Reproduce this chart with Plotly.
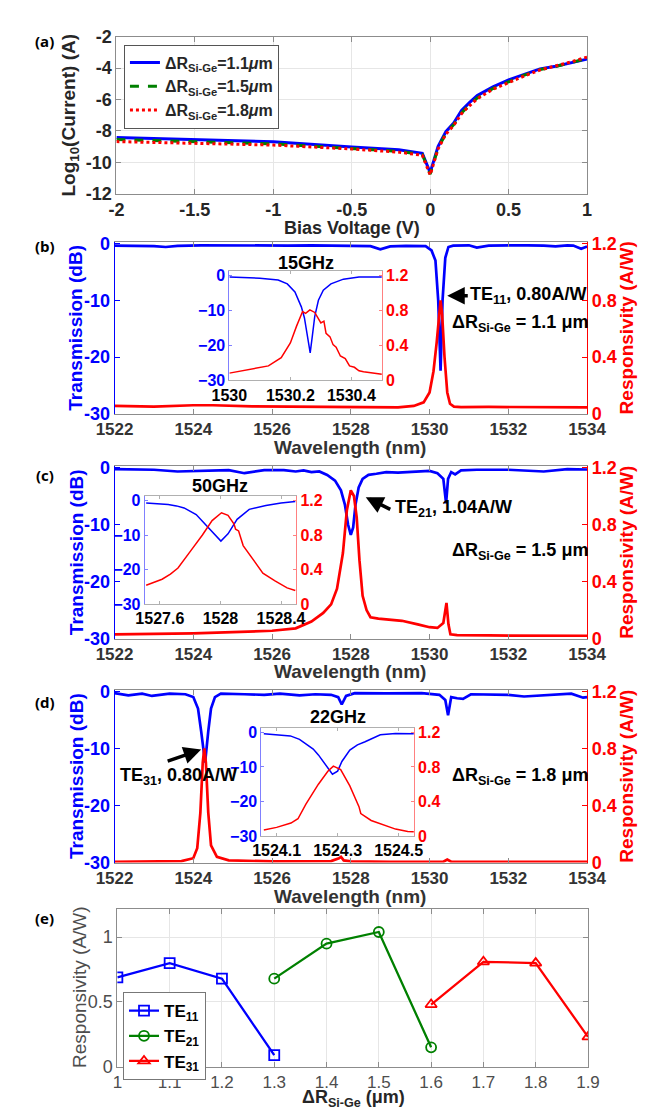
import plotly.graph_objects as go

W, H = 647, 1110
FONT = "Liberation Sans"
BLUE = "#0000ff"
RED = "#ff0000"
GREEN = "#008000"
DARK = "#262626"
BOX = "#8c8c8c"

# ---------------- Panel (a): I-V curves ----------------
bias_v = [-2, -1.5, -1, -0.5, -0.2, -0.05, 0, 0.05, 0.1, 0.15, 0.2, 0.25, 0.3, 0.4, 0.5, 0.6, 0.7, 0.8, 0.9, 1.0]
logI_11 = [-8.42, -8.55, -8.69, -9.02, -9.2, -9.42, -10.65, -9.0, -8.05, -7.5, -6.7, -6.2, -5.75, -5.2, -4.75, -4.4, -4.05, -3.88, -3.66, -3.43]
logI_15 = [-8.55, -8.68, -8.82, -9.12, -9.3, -9.5, -10.75, -9.1, -8.15, -7.6, -6.85, -6.35, -5.9, -5.3, -4.85, -4.45, -4.1, -3.9, -3.65, -3.38]
logI_18 = [-8.68, -8.78, -8.9, -9.15, -9.35, -9.55, -10.8, -9.15, -8.2, -7.65, -6.9, -6.4, -5.95, -5.35, -4.9, -4.5, -4.12, -3.88, -3.6, -3.3]
iv_names = ["ΔR<sub>Si-Ge</sub>=1.1<i>μ</i>m", "ΔR<sub>Si-Ge</sub>=1.5<i>μ</i>m", "ΔR<sub>Si-Ge</sub>=1.8<i>μ</i>m"]

# ---------------- Panel (b): ΔR = 1.1 um ----------------
wl_b_T = [1522.0, 1522.6, 1523.0, 1523.3, 1523.6, 1524.2, 1525.0, 1525.7, 1526.4, 1527.0, 1527.5, 1528.2, 1528.5,
          1528.75, 1529.0, 1529.4, 1529.9, 1530.05, 1530.15, 1530.22, 1530.28, 1530.33, 1530.4, 1530.48, 1530.6,
          1531.0, 1531.2, 1531.5, 1532.0, 1532.5, 1532.9, 1533.2, 1533.5, 1533.65, 1533.85, 1534.0]
T_b = [-0.35, -0.4, -0.45, -0.6, -0.4, -0.3, -0.35, -0.3, -0.35, -0.3, -0.35, -0.4, -0.45,
       -1.0, -0.5, -0.4, -0.45, -1.2, -3.0, -10.0, -22.4, -10.0, -2.5, -0.6, -0.35,
       -0.3, -0.7, -0.35, -0.3, -0.3, -0.35, -0.5, -0.3, -0.35, -0.9, -0.5]
wl_b_R = [1522.0, 1523.0, 1524.0, 1524.5, 1525.5, 1526.5, 1527.5, 1528.5, 1529.2, 1529.6, 1529.85, 1530.0, 1530.1,
          1530.18, 1530.24, 1530.28, 1530.32, 1530.38, 1530.45, 1530.52, 1530.62, 1530.8, 1531.5, 1532.5, 1533.5, 1534.0]
R_b = [0.055, 0.05, 0.06, 0.06, 0.052, 0.05, 0.05, 0.048, 0.045, 0.055, 0.08, 0.15, 0.3,
       0.5, 0.68, 0.80, 0.7, 0.4, 0.15, 0.07, 0.05, 0.047, 0.048, 0.045, 0.045, 0.045]
wl_bi_T = [1530.0, 1530.05, 1530.1, 1530.16, 1530.19, 1530.215, 1530.236, 1530.246, 1530.256, 1530.265, 1530.272,
           1530.28, 1530.292, 1530.308, 1530.333, 1530.374, 1530.425, 1530.46, 1530.5]
T_bi = [-0.3, -0.45, -0.65, -1.2, -2.3, -4.6, -8.9, -12.0, -17.3, -22.1, -17.3,
        -11.6, -7.0, -4.1, -2.3, -0.94, -0.3, -0.35, -0.35]
wl_bi_R = [1530.0, 1530.046, 1530.09, 1530.128, 1530.17, 1530.2, 1530.22, 1530.24, 1530.25, 1530.264, 1530.28,
           1530.29, 1530.3, 1530.31, 1530.317, 1530.33, 1530.34, 1530.35, 1530.364, 1530.38, 1530.394, 1530.41,
           1530.425, 1530.44, 1530.467, 1530.5]
R_bi = [0.083, 0.11, 0.14, 0.166, 0.26, 0.43, 0.62, 0.79, 0.77, 0.81, 0.78,
        0.72, 0.66, 0.68, 0.54, 0.5, 0.41, 0.38, 0.28, 0.25, 0.166, 0.15,
        0.11, 0.1, 0.083, 0.07]

# ---------------- Panel (c): ΔR = 1.5 um ----------------
wl_c_T = [1522.0, 1522.5, 1523.0, 1523.6, 1524.3, 1524.9, 1525.3, 1525.8, 1526.3, 1526.6, 1526.8, 1527.0, 1527.2,
          1527.4, 1527.6, 1527.75, 1527.85, 1527.93, 1528.0, 1528.06, 1528.12, 1528.2, 1528.3, 1528.45, 1528.65,
          1528.9, 1529.2, 1529.6, 1530.0, 1530.2, 1530.35, 1530.42, 1530.47, 1530.55, 1530.65, 1530.8, 1531.2,
          1532.0, 1532.5, 1532.9, 1533.5, 1534.0]
T_c = [-0.3, -0.35, -0.4, -0.7, -0.5, -0.45, -1.0, -0.45, -0.45, -0.7, -0.5, -0.8, -0.7,
       -1.3, -2.3, -4.0, -6.5, -10.0, -11.8, -10.5, -6.5, -3.5, -2.0, -1.3, -1.1,
       -0.8, -0.9, -0.7, -0.6, -1.0, -2.0, -6.3, -2.0, -0.8, -1.2, -0.5, -0.4,
       -0.4, -0.5, -0.7, -0.3, -0.35]
wl_c_R = [1522.0, 1523.0, 1524.0, 1525.0, 1526.0, 1526.6, 1527.0, 1527.3, 1527.5, 1527.65, 1527.8, 1527.9, 1528.0,
          1528.08, 1528.15, 1528.22, 1528.3, 1528.4, 1528.5, 1528.7, 1529.0, 1529.3, 1529.7, 1530.0, 1530.2,
          1530.35, 1530.43, 1530.48, 1530.53, 1530.7, 1531.5, 1532.5, 1533.5, 1534.0]
R_c = [0.03, 0.033, 0.037, 0.045, 0.055, 0.072, 0.12, 0.18, 0.24, 0.35, 0.6, 0.9, 1.04,
       1.0, 0.85, 0.55, 0.3, 0.2, 0.15, 0.14, 0.135, 0.125, 0.1, 0.08, 0.075,
       0.11, 0.25, 0.1, 0.03, 0.025, 0.022, 0.02, 0.02, 0.02]
wl_ci_T = [1527.51, 1527.58, 1527.655, 1527.71, 1527.76, 1527.84, 1527.9, 1527.966, 1528.003, 1528.05, 1528.11,
           1528.19, 1528.3, 1528.4, 1528.45, 1528.494]
T_ci = [-0.66, -0.8, -1.1, -1.5, -2.1, -4.0, -6.8, -10.1, -11.7, -9.6, -5.4,
        -2.5, -1.4, -0.66, -0.5, -0.2]
wl_ci_R = [1527.51, 1527.56, 1527.615, 1527.67, 1527.72, 1527.8, 1527.88, 1527.945, 1528.007, 1528.05, 1528.09,
           1528.1, 1528.12, 1528.15, 1528.21, 1528.28, 1528.36, 1528.44, 1528.494]
R_ci = [0.22, 0.25, 0.29, 0.35, 0.42, 0.61, 0.80, 0.97, 1.06, 1.03, 0.93,
        0.87, 0.85, 0.68, 0.53, 0.36, 0.27, 0.19, 0.16]

# ---------------- Panel (d): ΔR = 1.8 um ----------------
wl_d_T = [1522.0, 1522.35, 1522.7, 1522.95, 1523.4, 1523.8, 1524.0, 1524.12, 1524.2, 1524.3, 1524.38, 1524.45,
          1524.55, 1524.7, 1525.3, 1525.8, 1526.2, 1526.7, 1527.1, 1527.5, 1527.68, 1527.77, 1527.88, 1528.1,
          1528.9, 1529.8, 1530.25, 1530.4, 1530.47, 1530.55, 1530.7, 1530.85, 1531.05, 1531.6, 1532.0, 1532.4,
          1532.9, 1533.3, 1533.6, 1533.9, 1534.0]
T_d = [-0.3, -0.7, -0.4, -0.8, -0.4, -0.5, -1.0, -3.0, -7.0, -12.5, -7.0, -3.0,
       -1.0, -0.4, -0.5, -0.6, -0.4, -0.7, -0.5, -0.6, -1.0, -2.3, -0.8, -0.3,
       -0.35, -0.3, -0.6, -1.5, -4.2, -1.0, -1.2, -1.3, -0.5, -0.5, -0.6, -0.9,
       -0.7, -0.5, -0.4, -1.1, -1.0]
wl_d_R = [1522.0, 1523.0, 1523.7, 1524.0, 1524.1, 1524.18, 1524.24, 1524.28, 1524.32, 1524.38, 1524.45, 1524.6,
          1524.9, 1526.0, 1527.5, 1527.7, 1527.75, 1527.82, 1528.0, 1529.0, 1530.35, 1530.45, 1530.55, 1531.5, 1534.0]
R_d = [0.005, 0.006, 0.01, 0.03, 0.1, 0.35, 0.7, 0.80, 0.7, 0.35, 0.12, 0.04,
       0.015, 0.008, 0.01, 0.03, 0.04, 0.015, 0.008, 0.005, 0.005, 0.02, 0.005, 0.004, 0.004]
wl_di_T = [1524.058, 1524.1, 1524.145, 1524.175, 1524.196, 1524.22, 1524.237, 1524.268, 1524.283, 1524.3,
           1524.314, 1524.34, 1524.365, 1524.39, 1524.44, 1524.49, 1524.534, 1524.55]
T_di = [-0.4, -0.7, -1.0, -2.0, -3.2, -4.8, -6.5, -10.2, -12.1, -11.2,
        -8.4, -5.1, -3.6, -2.7, -0.66, -0.3, -0.4, -0.4]
wl_di_R = [1524.058, 1524.1, 1524.147, 1524.17, 1524.196, 1524.22, 1524.237, 1524.268, 1524.286, 1524.31,
           1524.34, 1524.37, 1524.376, 1524.41, 1524.452, 1524.49, 1524.53, 1524.55]
R_di = [0.07, 0.1, 0.15, 0.2, 0.37, 0.5, 0.60, 0.75, 0.81, 0.77,
        0.58, 0.34, 0.26, 0.18, 0.13, 0.08, 0.053, 0.05]

# ---------------- Panel (e): responsivity vs ΔR ----------------
dr_te11 = [1.0, 1.1, 1.2, 1.3]
resp_te11 = [0.69, 0.80, 0.68, 0.09]
dr_te21 = [1.3, 1.4, 1.5, 1.6]
resp_te21 = [0.68, 0.95, 1.04, 0.15]
dr_te31 = [1.6, 1.7, 1.8, 1.9]
resp_te31 = [0.48, 0.81, 0.80, 0.23]

wl_ticks = [1522, 1524, 1526, 1528, 1530, 1532, 1534]


def fx(px):
    return px / W


def fy(py):
    return 1 - py / H


def tf(size, color, bold=True, family=FONT):
    return dict(family=family, size=size, color=color, weight="bold" if bold else "normal")


fig = go.Figure()

# ---- traces (a)
for name, vals, col, dash in zip(iv_names, [logI_11, logI_15, logI_18], [BLUE, GREEN, RED], ["solid", "dash", "dot"]):
    fig.add_trace(go.Scatter(x=bias_v, y=vals, mode="lines", name=name, legend="legend",
                             line=dict(color=col, width=3, dash=dash), xaxis="x", yaxis="y"))

# ---- traces (b)-(d) main and insets
main_sets = [
    ("x2", "y2", "y3", wl_b_T, T_b, wl_b_R, R_b),
    ("x3", "y4", "y5", wl_c_T, T_c, wl_c_R, R_c),
    ("x4", "y6", "y7", wl_d_T, T_d, wl_d_R, R_d),
]
for xa, yl, yr, wt, tv, wr, rv in main_sets:
    fig.add_trace(go.Scatter(x=wt, y=tv, mode="lines", showlegend=False, line=dict(color=BLUE, width=2.7),
                             xaxis=xa, yaxis=yl))
    fig.add_trace(go.Scatter(x=wr, y=rv, mode="lines", showlegend=False, line=dict(color=RED, width=2.7),
                             xaxis=xa, yaxis=yr))

inset_sets = [
    ("x6", "y9", "y10", wl_bi_T, T_bi, wl_bi_R, R_bi),
    ("x7", "y11", "y12", wl_ci_T, T_ci, wl_ci_R, R_ci),
    ("x8", "y13", "y14", wl_di_T, T_di, wl_di_R, R_di),
]
for xa, yl, yr, wt, tv, wr, rv in inset_sets:
    fig.add_trace(go.Scatter(x=wt, y=tv, mode="lines", showlegend=False, line=dict(color=BLUE, width=1.5),
                             xaxis=xa, yaxis=yl))
    fig.add_trace(go.Scatter(x=wr, y=rv, mode="lines", showlegend=False, line=dict(color=RED, width=1.5),
                             xaxis=xa, yaxis=yr))

# ---- traces (e)
for name, xs, ys, col, sym in [("TE<sub>11</sub>", dr_te11, resp_te11, BLUE, "square-open"),
                               ("TE<sub>21</sub>", dr_te21, resp_te21, GREEN, "circle-open"),
                               ("TE<sub>31</sub>", dr_te31, resp_te31, RED, "triangle-up-open")]:
    fig.add_trace(go.Scatter(x=xs, y=ys, mode="lines+markers", name=name, legend="legend2",
                             line=dict(color=col, width=2.3), marker=dict(symbol=sym, size=10, color=col,
                                                                        line=dict(width=1.8, color=col)),
                             xaxis="x5", yaxis="y8"))

layout = dict(
    width=W, height=H, autosize=False,
    margin=dict(l=0, r=0, t=0, b=0),
    paper_bgcolor="white", plot_bgcolor="white",
    font=dict(family=FONT, color=DARK),
)

# (a) axes
layout["xaxis"] = dict(domain=[fx(95), fx(595)], anchor="y", range=[-2, 1],
                       tickvals=[-2, -1.5, -1, -0.5, 0, 0.5, 1],
                       ticktext=["-2", "-1.5", "-1", "-0.5", "0", "0.5", "1"],
                       ticks="inside", ticklen=5, tickcolor=BOX, showline=True, linecolor=BOX, mirror="ticks",
                       showgrid=True, gridcolor="#e6e6e6", zeroline=False, tickfont=tf(18, DARK))
layout["yaxis"] = dict(domain=[fy(179), fy(19)], anchor="x", range=[-12, -2],
                       tickvals=[-12, -10, -8, -6, -4, -2],
                       ticktext=["-12", "-10", "-8", "-6", "-4", "-2"],
                       ticks="inside", ticklen=5, tickcolor=BOX, showline=True, linecolor=BOX, mirror="ticks",
                       showgrid=True, gridcolor="#e6e6e6", zeroline=False, tickfont=tf(18, DARK))

# (b)-(d) main axes
main_geom = [(2, 2, 3, 228, 403), (3, 4, 5, 456, 632), (4, 6, 7, 684, 860)]
for ix, iyl, iyr, top, bot in main_geom:
    layout[f"xaxis{ix}"] = dict(domain=[fx(93), fx(595)], anchor=f"y{iyl}", range=[1522, 1534],
                                tickvals=wl_ticks, ticktext=[str(t) for t in wl_ticks],
                                ticks="inside", ticklen=5, tickcolor=BOX, showline=True, linecolor=BOX,
                                mirror="ticks", showgrid=False, zeroline=False, tickfont=tf(17, "#333333"))
    layout[f"yaxis{iyl}"] = dict(domain=[fy(bot), fy(top)], anchor=f"x{ix}", range=[-30, 0.3],
                                 tickvals=[-30, -20, -10, 0], ticktext=["-30", "-20", "-10", "0"],
                                 ticks="inside", ticklen=5, tickcolor=BLUE, showline=True, linecolor=BLUE,
                                 showgrid=False, zeroline=False, tickfont=tf(18, BLUE))
    layout[f"yaxis{iyr}"] = dict(overlaying=f"y{iyl}", side="right", anchor=f"x{ix}", range=[0, 1.212],
                                 tickvals=[0, 0.4, 0.8, 1.2], ticktext=["0", "0.4", "0.8", "1.2"],
                                 ticks="inside", ticklen=5, tickcolor=RED, showline=True, linecolor=RED,
                                 showgrid=False, zeroline=False, tickfont=tf(18, RED))

# insets
inset_geom = [
    (6, 9, 10, 215, 377, 258, 369, [1530, 1530.5], [1530, 1530.2, 1530.4], ["1530", "1530.2", "1530.4"]),
    (7, 11, 12, 125, 286, 487, 597, [1527.5, 1528.5], [1527.6, 1528, 1528.4], ["1527.6", "1528", "1528.4"]),
    (8, 13, 14, 249, 411, 723, 833, [1524.05, 1524.55], [1524.1, 1524.3, 1524.5], ["1524.1", "1524.3", "1524.5"]),
]
for ix, iyl, iyr, l, r, top, bot, xr, xt, xtt in inset_geom:
    layout[f"xaxis{ix}"] = dict(domain=[fx(l), fx(r)], anchor=f"y{iyl}", range=xr, tickvals=xt, ticktext=xtt,
                                ticks="inside", ticklen=3, tickcolor="#b0b0b0", showline=True,
                                linecolor="#b0b0b0", mirror="ticks", showgrid=False, zeroline=False,
                                tickfont=tf(16, "black"))
    layout[f"yaxis{iyl}"] = dict(domain=[fy(bot), fy(top)], anchor=f"x{ix}", range=[-30, 1.3],
                                 tickvals=[-30, -20, -10, 0], ticktext=["\u221230", "\u221220", "\u221210", "0"],
                                 ticks="inside", ticklen=3, tickcolor="#8080ff", showline=True,
                                 linecolor="#8080ff", showgrid=False, zeroline=False, tickfont=tf(16, BLUE))
    layout[f"yaxis{iyr}"] = dict(overlaying=f"y{iyl}", side="right", anchor=f"x{ix}", range=[0, 1.252],
                                 tickvals=[0, 0.4, 0.8, 1.2], ticktext=["0", "0.4", "0.8", "1.2"],
                                 ticks="inside", ticklen=3, tickcolor="#ff8080", showline=True,
                                 linecolor="#ff8080", showgrid=False, zeroline=False, tickfont=tf(16, RED))

# (e) axes
xe = [1.0, 1.1, 1.2, 1.3, 1.4, 1.5, 1.6, 1.7, 1.8, 1.9]
layout["xaxis5"] = dict(domain=[fx(96), fx(596)], anchor="y8", range=[1.0, 1.9], tickvals=xe,
                        ticktext=["1", "1.1", "1.2", "1.3", "1.4", "1.5", "1.6", "1.7", "1.8", "1.9"],
                        ticks="inside", ticklen=5, tickcolor=BOX, showline=True, linecolor=BOX, mirror="ticks",
                        showgrid=True, gridcolor="#e6e6e6", zeroline=False, tickfont=tf(17, "#4d4d4d", bold=False))
layout["yaxis8"] = dict(domain=[fy(1068), fy(907)], anchor="x5", range=[0, 1.22], tickvals=[0, 0.5, 1],
                        ticktext=["0", "0.5", "1"],
                        ticks="inside", ticklen=5, tickcolor=BOX, showline=True, linecolor=BOX, mirror="ticks",
                        showgrid=True, gridcolor="#e6e6e6", zeroline=False, tickfont=tf(18, "#4d4d4d", bold=False))

layout["legend"] = dict(x=fx(103), y=fy(27), xanchor="left", yanchor="top", bgcolor="white",
                        bordercolor="#555555", borderwidth=1, font=tf(16, DARK), tracegroupgap=0,
                        itemwidth=30)
layout["legend2"] = dict(x=fx(102), y=fy(992), xanchor="left", yanchor="top", bgcolor="white",
                         bordercolor="#777777", borderwidth=1, font=tf(17, "black"), tracegroupgap=0,
                         itemwidth=30)

ann = []


def text_px(text, x, y, size, color, bold=True, angle=0, xanchor="center", family=FONT):
    ann.append(dict(text=text, x=fx(x), y=fy(y), xref="paper", yref="paper", showarrow=False,
                    xanchor=xanchor, yanchor="middle", textangle=angle,
                    font=tf(size, color, bold, family)))


# panel labels
for lab, yy in [("(a)", 23), ("(b)", 232), ("(c)", 465), ("(d)", 697), ("(e)", 917)]:
    text_px(lab, 19, yy, 15, "black", True, family="Open Sans")

# axis titles
text_px("Log<sub>10</sub>(Current) (A)", 46, 99, 19, DARK, True, -90)
text_px("Bias Voltage (V)", 345, 214, 18, DARK, True)
for top, bot in [(228, 403), (456, 632), (684, 860)]:
    c = (top + bot) / 2
    text_px("Transmission (dB)", 52, c, 19, BLUE, True, -90)
    text_px("Responsivity (A/W)", 637, c, 19, RED, True, -90)
for yy in [437, 665, 895]:
    text_px("Wavelength (nm)", 343, yy, 19, "#333333", True)
text_px("Responsivity (A/W)", 56, 987, 19, "#4d4d4d", False, -90)
text_px("ΔR<sub>Si-Ge</sub> (μm)", 347, 1100, 18, DARK, True)

# inset titles
text_px("15GHz", 296, 250, 18, "black", True)
text_px("50GHz", 205, 477, 18, "black", True)
text_px("22GHz", 330, 712, 18, "black", True)

# mode labels
text_px("TE<sub>11</sub>, 0.80A/W", 468, 283, 18, "black", True, xanchor="left")
text_px("ΔR<sub>Si-Ge</sub> = 1.1 μm", 449, 311, 18, "black", True, xanchor="left")
text_px("TE<sub>21</sub>, 1.04A/W", 389, 500, 18, "black", True, xanchor="left")
text_px("ΔR<sub>Si-Ge</sub> = 1.5 μm", 449, 543, 18, "black", True, xanchor="left")
text_px("TE<sub>31</sub>, 0.80A/W", 97, 772, 18, "black", True, xanchor="left")
text_px("ΔR<sub>Si-Ge</sub> = 1.8 μm", 449, 772, 18, "black", True, xanchor="left")

# arrows
for xr, yr, xv, yv, axp, ayp in [("x2", "y2", 1530.45, -9.2, 22, 0),
                                ("x3", "y4", 1528.38, -5.2, 26, 13),
                                ("x4", "y6", 1524.2, -10.2, -35, 12)]:
    ann.append(dict(text="", x=xv, y=yv, xref=xr, yref=yr, showarrow=True, ax=axp, ay=ayp,
                    arrowhead=2, arrowsize=1, arrowwidth=3.5, arrowcolor="black"))

layout["annotations"] = ann
fig.update_layout(**layout)
fig.write_html("out.html")
